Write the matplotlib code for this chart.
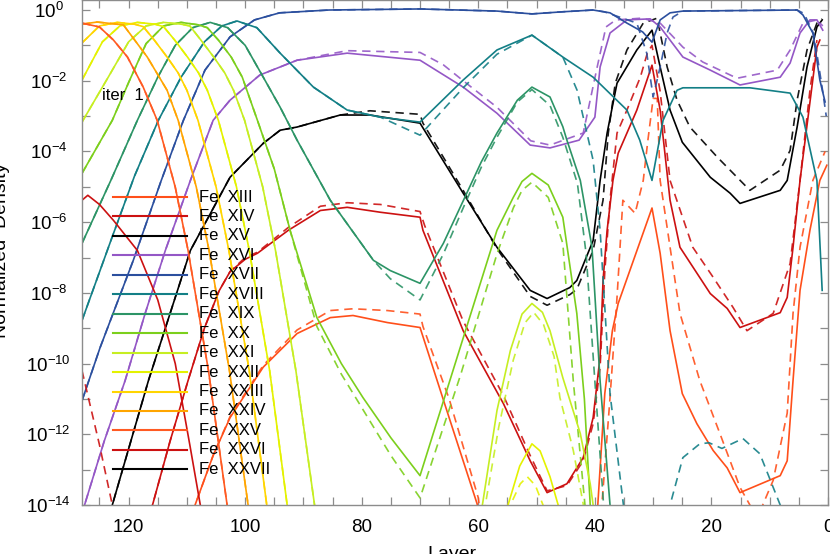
import numpy as np
import matplotlib
matplotlib.use("Agg")
import matplotlib.pyplot as plt
from matplotlib.ticker import MultipleLocator, NullLocator

plt.rcParams['font.family'] = ['Liberation Sans', 'DejaVu Sans']
plt.rcParams['mathtext.fontset'] = 'custom'
plt.rcParams['mathtext.rm'] = 'Liberation Sans'
plt.rcParams['mathtext.it'] = 'Liberation Sans:italic'
plt.rcParams['mathtext.bf'] = 'Liberation Sans:bold'
plt.rcParams['mathtext.default'] = 'regular'

# ---------------- data: layer index and log10(normalized density) ----------------
ions = ['XIII', 'XIV', 'XV', 'XVI', 'XVII', 'XVIII', 'XIX', 'XX', 'XXI', 'XXII',
        'XXIII', 'XXIV', 'XXV', 'XXVI', 'XXVII']
ion_colors = ['#ff4f1a', '#cc1111', '#000000', '#9457c6', '#2b4f9e', '#137f86',
              '#2c9466', '#7ccf1c', '#c6ee22', '#e4f200', '#ffd500', '#ffa500',
              '#ff5a22', '#cc1111', '#000000']

fe25_L = [128, 125, 122.6, 120.2, 117.5, 115.1, 112.0, 109.8, 106.3, 103.1, 101]
fe25_E = [-0.37, -0.48, -0.85, -1.33, -2.18, -3.12, -5.01, -6.80, -10.2, -14.0, -16.5]

fe24_L = [128, 125.4, 120.9, 116.8, 113.4, 111.5, 108.4, 106.2, 102.7, 99.5, 97.5]
fe24_E = [-0.40, -0.34, -0.42, -1.33, -2.27, -3.12, -5.0, -6.8, -10.2, -14.0, -16.5]

fe23_L = [128, 125, 122, 119, 117.5, 115.6, 113.4, 111.5, 110, 108.1, 105, 102.8, 99.3, 96.3, 94]
fe23_E = [-0.93, -0.45, -0.35, -0.4, -0.47, -0.85, -1.33, -1.78, -2.27, -3.12, -5.0, -6.8, -10.2, -14, -16.5]

fe22_L = [128, 124.5, 121.5, 118.5, 115.5, 114, 112.1, 109.9, 108, 106.5, 104.6, 101.5, 99.3, 95.8,
          92.8, 90.5, 57, 54.9, 52.9, 50.8, 49.4, 47.7, 46.3, 44.5]
fe22_E = [-1.98, -0.9, -0.45, -0.35, -0.4, -0.47, -0.85, -1.33, -1.78, -2.27, -3.12, -5.0, -6.8, -10.2,
          -14, -16.5, -16.5, -14, -12.9, -12.27, -12.47, -13.2, -14, -16.5]
fe22d_L = [128, 124.5, 121.5, 118.5, 115.5, 114, 112.1, 109.9, 108, 106.5, 104.6, 101.5, 99.3, 95.8,
           92.8, 90.5, 56.5, 54.5, 52.8, 51.6, 50.2, 48.9, 47.5]
fe22d_E = [-1.98, -0.9, -0.45, -0.35, -0.4, -0.47, -0.85, -1.33, -1.78, -2.27, -3.12, -5.0, -6.8, -10.2,
           -14, -16.5, -16.5, -14, -13.4, -13.2, -13.45, -14, -16.5]

fe21_L = [128, 123.5, 120, 117, 114, 111, 109.5, 107.6, 105.4, 103.5, 102, 100.1, 97, 94.8, 91.3, 88.1, 86,
          60.5, 59.3, 56.8, 54.5, 52.5, 50.8, 49, 47.7, 45.5, 42.5, 40.8, 40.3, 39]
fe21_E = [-3.17, -1.9, -0.9, -0.45, -0.35, -0.4, -0.45, -0.85, -1.33, -1.78, -2.27, -3.12, -5.0, -6.8, -10.2, -14, -16.5,
          -16.5, -14, -11.33, -9.63, -8.6, -8.3, -8.55, -9.07, -10.4, -11.98, -13.4, -14, -16.5]
fe21d_L = [128, 123.5, 120, 117, 114, 111, 109.5, 107.6, 105.4, 103.5, 102, 100.1, 97, 94.8, 91.3, 88.1, 86,
           60, 58.8, 56.5, 54, 52, 50.5, 48.8, 47, 46.0, 43.7, 42.0, 41]
fe21d_E = [-3.17, -1.9, -0.9, -0.45, -0.35, -0.4, -0.45, -0.85, -1.33, -1.78, -2.27, -3.12, -5.0, -6.8, -10.2, -14, -16.5,
           -16.5, -14, -11.8, -9.9, -8.85, -8.55, -8.9, -9.8, -10.96, -12.46, -13.97, -16.5]

fe20_L = [128, 122.8, 120, 117, 114, 111, 108, 106.5, 104.6, 102.4, 100.5, 97.9, 95, 92.3, 87.7, 83.5, 79.8,
          75, 70, 63.4, 56.8, 54, 52.5, 50.8, 48, 45.5, 43.1, 41.8, 40.8, 39.5]
fe20_E = [-4.62, -3.12, -2.05, -0.95, -0.45, -0.35, -0.42, -0.5, -0.85, -1.33, -1.9, -3.12, -4.5, -6.23, -8.7, -10.0, -10.96,
          -12.1, -13.17, -9.7, -6.23, -5.3, -4.85, -4.62, -4.95, -5.86, -8.58, -11.0, -14, -16.5]
fe20d_L = [128, 122.8, 120, 117, 114, 111, 108, 106.5, 104.6, 102.4, 100.5, 97.9, 95, 92.3, 87.7, 83.5, 79.8,
           75, 70, 63, 56.8, 54, 52.5, 50.8, 48, 45.5, 43.7, 41.7, 40.5]
fe20d_E = [-4.62, -3.12, -2.05, -0.95, -0.45, -0.35, -0.42, -0.5, -0.85, -1.33, -1.9, -3.12, -4.5, -6.23, -8.95, -10.3, -11.3,
           -12.6, -13.8, -10.3, -6.9, -5.6, -5.1, -4.87, -5.3, -6.6, -10.5, -14, -16.5]

fe19_L = [128, 123, 118.5, 115, 112, 109, 106, 103, 100, 96.9, 94, 91.1, 85.4, 78, 75.1, 70, 66, 62.6, 59.5,
          56.8, 53.3, 50.8, 47.7, 45.5, 44.8, 42.5, 40.5, 39.1, 37.4, 36]
fe19_E = [-6.6, -4.8, -3.12, -1.9, -1.0, -0.5, -0.35, -0.5, -1.0, -1.9, -2.75, -3.68, -5.38, -7.08, -7.37, -7.73, -6.6, -5.4, -4.3,
          -3.48, -2.55, -2.18, -2.46, -3.3, -3.68, -4.82, -6.7, -10.5, -14, -16.5]
fe19d_L = [128, 123, 118.5, 115, 112, 109, 106, 103, 100, 96.9, 94, 91.1, 85.4, 78, 75.1, 70, 66, 62.6, 59.5,
           56.8, 53.3, 50.8, 47.7, 45.5, 43, 41.5, 40, 38.5, 37]
fe19d_E = [-6.6, -4.8, -3.12, -1.9, -1.0, -0.5, -0.35, -0.5, -1.0, -1.9, -2.75, -3.68, -5.38, -7.08, -7.6, -8.2, -6.9, -5.6, -4.45,
           -3.6, -2.6, -2.25, -2.7, -3.6, -4.9, -6.9, -10.5, -14, -16.5]

fe18_L = [128, 123, 119, 114.9, 111, 107, 104, 101.4, 98, 94, 88.3, 82.5, 76.8, 70, 62.6, 56.8, 50.8, 45.5,
          40.3, 34.5, 32.3, 30.2, 28.3, 25.9, 24.9, 13.4, 6.5, 4.3, 1.9, 1.0]
fe18_E = [-8.78, -6.5, -4.7, -3.12, -1.9, -0.9, -0.45, -0.31, -0.5, -1.22, -2.18, -2.83, -3.03, -3.17, -1.98, -1.13, -0.71, -1.33,
          -1.9, -2.83, -3.68, -4.82, -3.12, -2.27, -2.2, -2.2, -2.35, -3.03, -4.82, -7.93]
fe18d_L = [128, 123, 119, 114.9, 111, 107, 104, 101.4, 98, 94, 88.3, 82.5, 76.8, 70, 62.6, 56.8, 50.8, 45.5,
           43.05, 40.3, 39.1, 37.4, 35.1, 33, 29, 27.1, 24.9, 22.0, 20.4, 18.2, 14.6, 11.7, 8.2, 6]
fe18d_E = [-8.78, -6.5, -4.7, -3.12, -1.9, -0.9, -0.45, -0.31, -0.5, -1.22, -2.18, -2.83, -3.03, -3.54, -2.2, -1.25, -0.71, -1.33,
           -2.27, -4.25, -6.23, -10.85, -14, -16.5, -16.5, -14, -12.66, -12.27, -12.24, -12.4, -12.12, -12.55, -14, -16.5]

fe17_L = [128, 124.9, 119.2, 114.4, 110.6, 106.9, 102.6, 98.4, 94.1, 85.6, 70, 56.8, 50.8, 45.5, 40.3, 37.4,
          34.5, 31.8, 30.2, 28.8, 27.1, 24.9, 5.3, 4.3, 2.6, 1.4, 0.5]
fe17_E = [-11.05, -9.55, -7.08, -4.82, -3.12, -1.7, -0.76, -0.28, -0.08, 0.0, 0.03, -0.03, -0.11, -0.05, 0.0, -0.08,
          -0.37, -0.62, -0.91, -0.28, -0.08, -0.03, 0.0, -0.14, -0.65, -1.98, -2.6]
fe17d_L = [128, 124.9, 119.2, 114.4, 110.6, 106.9, 102.6, 98.4, 94.1, 85.6, 70, 56.8, 50.8, 45.5, 40.3, 38.4,
           32.8, 31.1, 30.0, 28.8, 27.6, 26.6, 24.9, 5.3, 4.1, 2.4, 1.0, 0.3]
fe17d_E = [-11.05, -9.55, -7.08, -4.82, -3.12, -1.7, -0.76, -0.28, -0.08, 0.0, 0.03, -0.03, -0.11, -0.05, 0.0, -0.05,
           -0.37, -1.22, -2.46, -1.61, -0.65, -0.2, -0.03, 0.0, -0.1, -0.7, -2.2, -3.0]

fe16_L = [128, 127.6, 124.2, 120.6, 117.2, 113.7, 109.4, 105.5, 102.6, 97.5, 91.1, 82.5, 70, 62.6, 56.8, 51.1,
          47.7, 42.7, 40.0, 39.1, 37.4, 34.5, 30.5, 28.8, 24.9, 20.2, 15.1, 8.2, 6.5, 4.8, 3.1, 1.9, 0.9]
fe16_E = [-14.3, -14.02, -12.2, -10.48, -8.6, -6.8, -4.82, -3.12, -2.55, -1.84, -1.42, -1.22, -1.42, -2.18, -2.92, -3.82,
          -3.9, -3.68, -3.03, -1.61, -0.65, -0.28, -0.25, -0.48, -1.33, -1.7, -2.12, -1.9, -1.5, -0.65, -0.28, -0.28, -0.57]
fe16d_L = [128, 127.6, 124.2, 120.6, 117.2, 113.7, 109.4, 105.5, 102.6, 97.5, 91.1, 82.5, 70, 66, 62.6, 56.8, 51,
           47.7, 42.0, 39.6, 38.1, 36.4, 31.9, 28.8, 24.9, 21.5, 15.6, 8.7, 6.5, 4.3, 1.9, 0.9]
fe16d_E = [-14.3, -14.02, -12.2, -10.48, -8.6, -6.8, -4.82, -3.12, -2.55, -1.84, -1.42, -1.15, -1.2, -1.55, -2.0, -2.75, -3.7,
           -3.82, -3.48, -1.61, -0.48, -0.28, -0.23, -0.37, -1.05, -1.47, -1.93, -1.7, -1.13, -0.37, -0.28, -0.45]

fe15_L = [128, 122.8, 116.6, 109.4, 102.6, 96.9, 94, 91.1, 83.7, 78.6, 70, 62.6, 56.8, 51.1, 48.2, 44.3, 43.1,
          40.3, 39.1, 37.9, 36.2, 32.8, 30.2, 28.8, 27.1, 25.0, 20.2, 16.8, 15.1, 8.2, 7.0, 5.3, 3.6, 1.9, 1.0]
fe15_E = [-17, -14, -10.48, -6.8, -4.73, -3.77, -3.4, -3.31, -2.97, -2.97, -3.2, -5.18, -6.71, -7.93, -8.16, -7.85, -7.65,
          -6.52, -4.82, -3.48, -2.07, -1.13, -0.57, -1.61, -2.83, -3.74, -4.73, -5.18, -5.47, -5.1, -4.82, -3.31, -1.61, -0.48, -0.28]
fe15d_L = [128, 122.8, 116.6, 109.4, 102.6, 96.9, 94, 91.1, 83.7, 78.6, 70, 69.5, 62.6, 56.8, 51.1, 48.2, 44.3, 43.1,
           40.3, 38.6, 37.7, 36.5, 34.5, 31.7, 29.3, 28.8, 27.6, 25.9, 23.7, 19.0, 13.4, 8.2, 6.5, 5.3, 3.6, 1.9, 1.0]
fe15d_E = [-17, -14, -10.48, -6.8, -4.73, -3.77, -3.4, -3.31, -2.97, -2.85, -2.95, -3.2, -5.1, -6.75, -8.1, -8.35, -8.05, -7.9,
           -6.8, -5.38, -3.48, -2.07, -1.13, -0.37, -0.23, -0.65, -1.61, -2.55, -3.31, -4.16, -5.1, -4.53, -3.97, -2.55, -1.13, -0.37, -0.25]

fe14_L = [117, 115.9, 112.9, 109.8, 107, 104.5, 102.6, 100, 97.9, 92.6, 87.1, 82.5, 76.8, 70, 69.5, 62.6, 55.7,
          51.1, 48.2, 44.8, 42.0, 40.3, 39.1, 38.6, 37.9, 36.9, 36.0, 34.5, 32.8, 30.2, 28.8, 27.1, 25.4, 20.2,
          17.3, 15.1, 8.2, 7.0, 6.0, 4.8, 1.9, 1.4]
fe14_E = [-16.5, -14, -12.2, -10.48, -9.0, -7.95, -7.4, -7.05, -6.88, -6.23, -5.67, -5.58, -5.72, -5.86, -6.23, -9.07, -11.13,
          -12.75, -13.65, -13.4, -12.66, -11.53, -9.8, -7.65, -6.23, -4.82, -4.05, -3.48, -2.83, -1.56, -2.83, -5.38, -6.71, -8.02,
          -8.44, -8.98, -8.56, -8.13, -6.71, -4.82, -1.05, -0.85]
fe14d_L = [117, 115.9, 112.9, 109.8, 107, 104.5, 102.6, 100, 97.9, 92.6, 87.1, 82.5, 76.8, 70, 69.2, 62.6, 55.7,
           51.1, 48.2, 44.8, 42.0, 40.3, 39.1, 38.3, 37.4, 36.2, 34.5, 32.2, 31.0, 30.2, 28.8, 27.1, 23.2, 19.7,
           16.3, 13.9, 9.4, 6.5, 4.8, 3.1, 1.9]
fe14d_E = [-16.5, -14, -12.2, -10.48, -9.0, -7.95, -7.4, -7.0, -6.85, -6.15, -5.55, -5.45, -5.5, -5.7, -6.1, -8.8, -10.9,
           -12.6, -13.6, -13.45, -12.75, -11.7, -10.1, -7.4, -5.38, -3.48, -2.83, -1.9, -1.22, -1.0, -2.3, -4.82, -6.71, -7.56,
           -8.41, -9.07, -8.58, -7.17, -4.82, -2.27, -0.85]

fe13_L = [110.5, 108.6, 105.5, 102.6, 96.9, 91.1, 85.4, 81.5, 75.6, 70, 65.4, 60.2, 58, 41, 39.5, 38.3, 37.0,
          36.0, 30.2, 28.8, 27.1, 25.0, 22.5, 19.7, 17.3, 15.1, 8.2, 7.0, 6.0, 4.8, 3.1, 1.4, 0.2]
fe13_E = [-16.5, -14, -12.6, -11.53, -10.1, -9.15, -8.7, -8.64, -8.84, -8.98, -11.33, -13.97, -16.5, -16.5, -14, -10.85, -9.07,
          -8.3, -5.6, -6.88, -9.07, -10.85, -11.7, -12.46, -12.95, -13.65, -13.17, -12.75, -10.48, -7.93, -6.23, -4.82, -4.39]
fe13d_L = [110.5, 108.6, 105.5, 102.6, 96.9, 91.1, 85.4, 81.5, 75.6, 70, 69.5, 65, 60, 58, 40.5, 38.8, 37.4,
           36.2, 35.2, 33.1, 31.7, 30.9, 30.0, 29.3, 28.8, 27.1, 25.4, 22.0, 18.5, 15.1, 13.4, 12.2, 11.2, 9.4,
           7.0, 6.0, 4.8, 2.6, 0.5]
fe13d_E = [-16.5, -14, -12.6, -11.5, -10.05, -9.05, -8.5, -8.45, -8.5, -8.6, -8.95, -11.0, -13.8, -16.5, -16.5, -14, -10.96,
           -8.13, -5.38, -5.75, -4.82, -3.68, -2.5, -2.5, -4.82, -6.71, -8.58, -10.48, -12.0, -13.5, -14, -15.0, -14, -13.3,
           -11.4, -8.58, -6.71, -4.82, -4.0]

fe26_L = [128, 127, 125, 122.6, 118.5, 115, 112, 109.5, 107.7, 106]
fe26_E = [-5.38, -5.24, -5.5, -5.95, -6.8, -8.2, -10.0, -12.3, -14, -16.5]
fe26d_L = [128, 125, 122.8, 121]
fe26d_E = [-10.2, -12.3, -14, -16.5]

series = {
    'XIII': ((fe13_L, fe13_E), (fe13d_L, fe13d_E)),
    'XIV': ((fe14_L, fe14_E), (fe14d_L, fe14d_E)),
    'XV': ((fe15_L, fe15_E), (fe15d_L, fe15d_E)),
    'XVI': ((fe16_L, fe16_E), (fe16d_L, fe16d_E)),
    'XVII': ((fe17_L, fe17_E), (fe17d_L, fe17d_E)),
    'XVIII': ((fe18_L, fe18_E), (fe18d_L, fe18d_E)),
    'XIX': ((fe19_L, fe19_E), (fe19d_L, fe19d_E)),
    'XX': ((fe20_L, fe20_E), (fe20d_L, fe20d_E)),
    'XXI': ((fe21_L, fe21_E), (fe21d_L, fe21d_E)),
    'XXII': ((fe22_L, fe22_E), (fe22d_L, fe22d_E)),
    'XXIII': ((fe23_L, fe23_E), (fe23_L, fe23_E)),
    'XXIV': ((fe24_L, fe24_E), (fe24_L, fe24_E)),
    'XXV': ((fe25_L, fe25_E), (fe25_L, fe25_E)),
    'XXVI': ((fe26_L, fe26_E), (fe26d_L, fe26d_E)),
}

# ---------------- figure ----------------
fig = plt.figure(figsize=(8.3, 5.54), dpi=100)
ax = fig.add_axes([82 / 830, 49 / 554, 746 / 830, 505 / 554])
ax.set_yscale('log')

LW = 1.2
for ion, col in zip(ions, ion_colors):
    if ion not in series:
        continue
    (sl, se), (dl, de) = series[ion]
    ax.plot(sl, 10.0 ** np.array(se), color=col, lw=LW, solid_joinstyle='round')
    ax.plot(dl, 10.0 ** np.array(de), color=col, lw=LW, dashes=(5.0, 3.4), alpha=0.9)

ax.set_xlim(128, 0)
ax.set_ylim(1e-14, 1.92)

grey = '#8c8c8c'
for s in ax.spines.values():
    s.set_color(grey)
    s.set_linewidth(1.0)

ax.set_xticks(list(range(0, 121, 20)))
ax.set_xticklabels([str(v) for v in range(0, 121, 20)])
ax.xaxis.set_minor_locator(MultipleLocator(5))
ydec = list(range(-14, 1))
ax.set_yticks([10.0 ** k for k in ydec])
ax.set_yticklabels([(r'$10^{%d}$' % k) if k % 2 == 0 else '' for k in ydec], ha='center')
ax.yaxis.set_minor_locator(NullLocator())

ax.tick_params(axis='both', which='both', direction='in', top=True, right=True,
               length=5.5, width=0.9, color=grey, labelsize=13.5)
ax.tick_params(axis='x', which='both', pad=10)
ax.tick_params(axis='y', which='both', pad=24)

# legend drawn IDL style
x0, x1, xt = (113 - 82) / 746, (187 - 82) / 746, (199 - 82) / 746
for i, (ion, col) in enumerate(zip(ions, ion_colors)):
    yy = (505 - (197 + 19.45 * i)) / 505
    ax.plot([x0, x1], [yy, yy], transform=ax.transAxes, color=col, lw=LW + 0.3, clip_on=False)
    ax.text(xt, yy, 'Fe  ' + ion, transform=ax.transAxes, fontsize=12,
            va='center', ha='left', color='black')

ax.text(124.6, 10 ** -2.42, 'iter  1', fontsize=12, va='center', ha='left')

fig.text(2 / 830, 1 - 250 / 554, 'Normalized  Density', rotation=90, fontsize=14,
         ha='center', va='center')
fig.text(452 / 830, 1 - 546 / 554, 'Layer', fontsize=14, ha='center', va='top')

fig.savefig('out.png', dpi=100)
